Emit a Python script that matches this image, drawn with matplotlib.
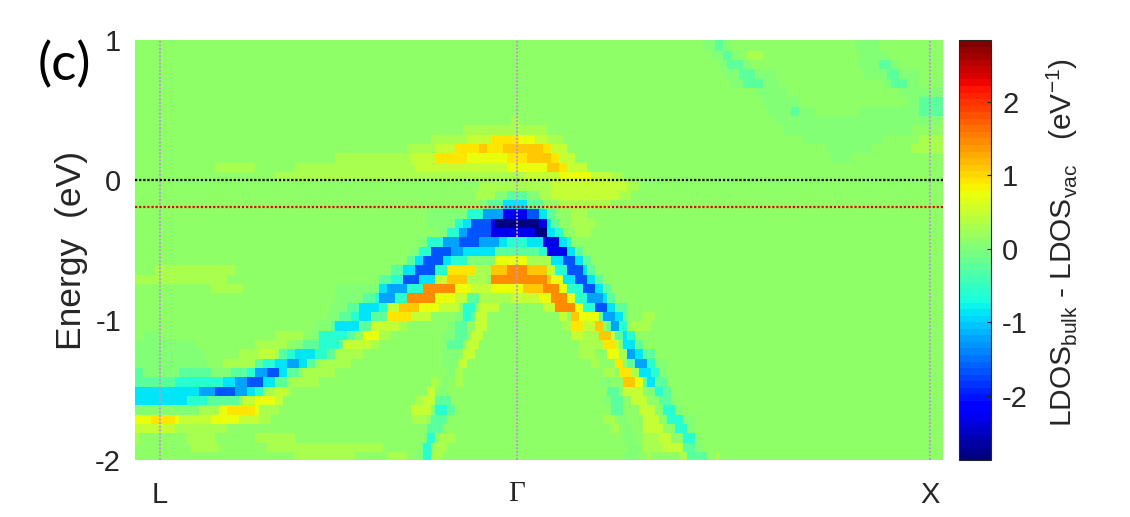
import numpy as np
import matplotlib
matplotlib.use('Agg')
import matplotlib.pyplot as plt

plt.rcParams['font.family'] = ['Liberation Sans', 'DejaVu Sans']
plt.rcParams['mathtext.fontset'] = 'custom'
plt.rcParams['mathtext.rm'] = 'Liberation Sans'

# LDOS levels
levels = {'-': 0.04, '=': -0.24, 't': -0.63, 'c': -0.9, 'l': -1.2, 'b': -1.67,
          'B': -2.25, 'N': -2.8, ',': 0.3, 'g': 0.52, 'h': 0.75, 'y': 0.92,
          'o': 1.1, 'O': 1.44}
background = 0.12

n_k = 202
n_e = 45
k_ticks = [6.25, 95.5, 198.75]
k_labels = ['L', '\u0393', 'X']
energy_ticks = [-2, -1, 0, 1]
cbar_ticks = [-2, -1, 0, 1, 2]
fermi_level = 0.0
bias_level = -0.19

# digitised map: one list per energy row, top to bottom, (first k, last k, level)
# later runs paint over earlier ones
rows = [
    [(142,149,'-'),(145,147,'='),(180,186,'-')],
    [(144,151,'-'),(147,149,'='),(153,157,','),(181,188,'-')],
    [(146,154,'-'),(148,152,'='),(181,191,'-'),(186,189,'=')],
    [(147,160,'-'),(151,155,'='),(182,196,'-'),(188,191,'=')],
    [(149,161,'-'),(152,157,'='),(187,196,'-'),(189,193,'=')],
    [(155,163,'-'),(191,202,'-')],
    [(157,166,'-'),(193,196,'-'),(196,202,'=')],
    [(158,170,'-'),(164,166,'='),(181,196,'-'),(196,202,'=')],
    [(160,201,'-'),(94,96,',')],
    [(82,103,','),(162,194,'-')],
    [(74,107,','),(83,103,'g'),(89,96,'y'),(96,100,'h'),(167,187,'-'),(196,202,',')],
    [(68,108,','),(75,80,'g'),(80,86,'y'),(86,88,'o'),(88,92,'y'),(92,102,'o'),(102,104,'y'),(104,108,'g'),
     (173,184,'-'),(194,202,',')],
    [(50,69,','),(69,75,'g'),(75,83,'y'),(83,93,'h'),(93,98,'y'),(98,104,'o'),(104,106,'y'),(106,110,'g'),(174,179,'-')],
    [(20,30,','),(40,70,','),(70,93,'g'),(93,103,'h'),(103,106,'o'),(106,108,'y'),(108,113,'g')],
    [(35,97,','),(97,106,'g'),(106,114,'h'),(114,119,'g'),(119,122,',')],
    [(86,104,','),(104,123,'g'),(123,126,',')],
    [(85,90,','),(90,101,'-'),(93,98,'='),(101,104,','),(104,121,'g'),(121,124,',')],
    [(86,88,'-'),(88,92,'='),(92,98,'c'),(98,102,'='),(106,119,',')],
    [(73,83,'-'),(83,87,'t'),(87,92,'l'),(92,98,'B'),(98,101,'b'),(101,103,'c'),(103,105,'='),(109,113,',')],
    [(73,80,'-'),(80,82,'t'),(82,84,'c'),(84,89,'b'),(89,90,'B'),(90,101,'N'),(101,103,'B'),(103,104,'c'),(104,106,'='),(109,115,',')],
    [(76,78,'-'),(78,81,'t'),(81,83,'l'),(83,89,'b'),(89,100,'B'),(100,103,'N'),(103,105,'c'),(105,107,'t'),(110,114,',')],
    [(71,73,'-'),(73,77,'t'),(77,81,'l'),(81,86,'b'),(86,91,'l'),(91,93,'c'),(93,98,'t'),(98,102,'c'),(102,106,'B'),(106,108,'c'),(108,109,'t')],
    [(69,71,'-'),(71,74,'t'),(74,79,'b'),(79,82,'l'),(82,90,'c'),(90,101,'='),(101,103,'t'),(103,108,'B'),(108,110,'c'),(110,112,'=')],
    [(68,70,'='),(70,72,'c'),(72,77,'b'),(77,79,'c'),(79,83,'t'),(83,90,'-'),(90,98,'h'),(98,104,','),(104,107,'c'),(107,110,'b'),(110,112,'c'),(112,114,'=')],
    [(5,25,','),(64,67,'='),(67,70,'c'),(70,75,'b'),(75,78,'t'),(78,85,'y'),(85,89,','),(89,93,'o'),(93,98,'O'),(98,103,'o'),(103,105,'g'),(105,108,'t'),(108,112,'b'),(112,113,'c'),(113,115,'=')],
    [(0,23,','),(61,64,'='),(64,67,'t'),(67,71,'b'),(71,75,'c'),(75,78,'g'),(78,83,'o'),(83,88,','),(89,103,'O'),(103,104,'o'),(104,107,'h'),(107,110,'c'),(110,113,'b'),(113,115,'c'),(115,117,'=')],
    [(19,27,','),(50,61,'-'),(61,63,'c'),(63,68,'l'),(68,72,'t'),(72,80,'O'),(80,84,'h'),(84,89,'g'),(89,97,'h'),(97,102,'o'),(102,106,'O'),(106,108,'h'),(108,112,'t'),(112,115,'b'),(115,117,'c'),(117,119,'=')],
    [(50,57,'-'),(57,60,'='),(60,61,'t'),(61,65,'l'),(65,68,'t'),(68,75,'O'),(75,80,'h'),(80,83,'g'),(83,86,'='),(86,94,','),(94,101,'g'),(101,104,'h'),(104,108,'O'),(108,110,'h'),(110,113,'t'),(113,117,'l'),(117,118,'c'),(118,120,'=')],
    [(49,53,'-'),(53,56,'='),(56,61,'c'),(61,63,'t'),(63,66,'g'),(66,71,'o'),(71,76,'h'),(76,81,'g'),(82,85,'t'),(86,91,'g'),(102,105,'g'),(105,110,'O'),(110,112,'h'),(112,115,'t'),(115,118,'b'),(118,120,'c'),(120,123,'=')],
    [(48,51,'-'),(51,54,'='),(54,56,'t'),(56,59,'c'),(59,63,'='),(63,69,'y'),(69,74,'g'),(80,82,'-'),(82,84,'t'),(84,85,'='),(85,88,'g'),(106,108,'g'),(109,111,'o'),(111,116,'h'),(116,117,'='),(117,120,'l'),(120,122,'c'),(122,123,'='),(127,130,',')],
    [(45,49,'-'),(49,50,'='),(50,56,'c'),(56,59,'='),(59,66,'g'),(66,68,','),(78,80,'-'),(80,83,'='),(85,88,'g'),(107,109,','),(109,112,'y'),(112,115,'g'),(115,117,'o'),(118,119,'='),(119,121,'l'),(121,123,'t'),(124,129,',')],
    [(2,6,'-'),(35,42,','),(44,46,'-'),(46,53,'t'),(53,55,'='),(57,61,'h'),(61,64,','),(77,80,'-'),(80,83,'='),(84,87,'g'),(109,112,'g'),(112,116,','),(116,119,'o'),(119,120,'g'),(120,122,'='),(122,123,'c'),(123,125,'t')],
    [(0,15,'-'),(30,38,','),(40,42,'-'),(42,46,'='),(46,51,'t'),(51,52,'='),(52,59,'g'),(59,61,','),(77,78,'-'),(78,82,'='),(83,86,'g'),(111,117,','),(117,120,'y'),(120,121,'g'),(121,122,'-'),(122,125,'c'),(125,127,'=')],
    [(0,17,'-'),(26,31,','),(31,35,'g'),(35,36,','),(36,38,'='),(38,40,'t'),(40,45,'c'),(45,48,'t'),(48,50,'='),(50,57,','),(77,81,'-'),(82,85,'g'),(111,115,','),(118,121,'h'),(121,123,','),(123,125,'l'),(125,127,'c'),(127,130,'=')],
    [(0,18,'-'),(22,30,','),(30,32,'='),(32,35,'t'),(35,38,'c'),(38,41,'l'),(41,43,'c'),(43,45,'='),(46,54,','),(77,80,'-'),(81,83,'g'),(114,116,','),(120,122,'y'),(123,125,'='),(125,128,'l'),(128,130,'t'),(130,133,'-')],
    [(0,2,'='),(2,11,'-'),(11,19,'='),(19,24,'-'),(24,28,'='),(28,30,'t'),(30,33,'l'),(33,36,'b'),(36,38,'c'),(38,41,'='),(42,50,','),(78,80,'-'),(80,82,','),(117,120,','),(121,124,'y'),(124,126,','),(126,129,'c'),(129,131,'t'),(131,133,'-')],
    [(0,10,'='),(10,22,'t'),(22,25,'c'),(25,28,'l'),(28,32,'b'),(32,35,'c'),(35,38,'='),(39,46,','),(74,76,','),(77,78,'-'),(80,82,','),(116,119,'-'),(122,125,'o'),(125,127,'h'),(127,128,'='),(128,130,'c'),(130,133,'=')],
    [(0,16,'c'),(16,20,'l'),(20,25,'b'),(25,28,'l'),(28,30,'c'),(30,32,'t'),(33,35,','),(35,38,'g'),(38,39,','),(73,75,'g'),(76,78,'-'),(118,121,'='),(122,127,'g'),(128,130,'-'),(130,132,'t'),(132,134,'=')],
    [(0,13,'c'),(13,18,'t'),(18,26,'='),(27,30,'g'),(30,35,'h'),(35,37,'g'),(70,72,','),(72,75,'g'),(75,79,'='),(117,119,'-'),(119,122,'='),(124,128,'g'),(131,134,'='),(134,135,'-')],
    [(0,16,'-'),(16,21,','),(21,23,'h'),(23,30,'y'),(30,31,'h'),(31,36,','),(69,74,'g'),(75,78,'t'),(78,80,'='),(119,122,'='),(126,130,'g'),(132,135,'t'),(135,137,'-')],
    [(0,4,'h'),(4,10,'y'),(10,11,'h'),(11,19,'g'),(19,26,'h'),(26,31,'g'),(31,34,','),(69,73,','),(74,78,'='),(117,120,','),(121,123,'-'),(127,131,'g'),(133,137,'t'),(137,140,'-')],
    [(0,10,'g'),(10,23,','),(73,77,'='),(119,121,','),(122,124,'-'),(127,132,'g'),(135,138,'t'),(138,140,'-')],
    [(0,1,','),(13,20,','),(30,40,','),(72,73,'-'),(73,75,'t'),(76,80,','),(122,125,'-'),(127,131,','),(131,134,'g'),(137,140,'t'),(140,141,'-')],
    [(14,21,','),(33,62,','),(71,72,'-'),(72,74,'t'),(75,78,','),(123,126,'-'),(127,132,','),(132,137,'g'),(137,140,'='),(140,142,'-')],
    [(40,55,','),(63,68,','),(66,68,','),(70,72,'-'),(72,74,'t'),(74,77,','),(122,126,'-'),(128,129,','),(136,138,','),(138,143,'='),(145,146,',')],
]

ldos = np.full((n_e, n_k), background)
for i, row in enumerate(rows):
    for first, last, code in row:
        ldos[i, first:last] = levels[code]

k_edges = np.arange(n_k + 1)
e_edges = 0.9907 - 3.0 / n_e * np.arange(n_e + 1)
e_edges[0] = 1.0

cmap = plt.get_cmap('jet', 64)
dots = (0, (1, 0.85))

fig = plt.figure(figsize=(11.30, 5.17), dpi=100)
ax = fig.add_axes([135 / 1130, 1 - 460 / 517, 808 / 1130, 420 / 517])
mesh = ax.pcolormesh(k_edges, e_edges, ldos, cmap=cmap, vmin=-2.87, vmax=2.84,
                     shading='flat', rasterized=True)
ax.set_xlim(0, n_k)
ax.set_ylim(-2, 1)

for k in k_ticks:
    ax.axvline(k, color='#b89cc8', linestyle=dots, linewidth=1.4)
ax.axhline(fermi_level, color='black', linestyle=dots, linewidth=1.6)
ax.axhline(bias_level, color='#e80000', linestyle=dots, linewidth=1.6)

for spine in ax.spines.values():
    spine.set_visible(False)
ax.tick_params(length=0, labelsize=21, colors='#262626')
ax.set_yticks(energy_ticks)
ax.set_yticklabels(['-2', '-1', '0', '1'])
ax.tick_params(axis='y', pad=10)
ax.set_xticks(k_ticks)
ax.set_xticklabels(k_labels)
ax.tick_params(axis='x', pad=15)
ax.get_xticklabels()[1].set_fontfamily('Liberation Serif')

fig.text(71 / 1130, 1 - 250 / 517, 'Energy  (eV)', rotation=90, fontsize=25.5,
         color='#262626', ha='center', va='center')
fig.text(64 / 1130, 1 - 65 / 517, '(c)', fontsize=38, color='black',
         family='Lato', ha='center', va='center')

cax = fig.add_axes([959 / 1130, 1 - 460 / 517, 32 / 1130, 420 / 517])
cbar = fig.colorbar(mesh, cax=cax, ticks=cbar_ticks)
cbar.outline.set_edgecolor('#262626')
cbar.outline.set_linewidth(0.8)
cbar.ax.tick_params(direction='in', length=3, width=0.8, labelsize=21,
                    colors='#262626', pad=8)
cbar.ax.set_yticklabels(['-2', '-1', '0', '1', '2'])
fig.text(1062 / 1130, 1 - 243 / 517,
         r'LDOS$_{\mathrm{bulk}}$ - LDOS$_{\mathrm{vac}}$   (eV$^{-1}$)',
         rotation=90, fontsize=21.5, color='#262626', ha='center', va='center')

fig.savefig('out.png', dpi=100)
